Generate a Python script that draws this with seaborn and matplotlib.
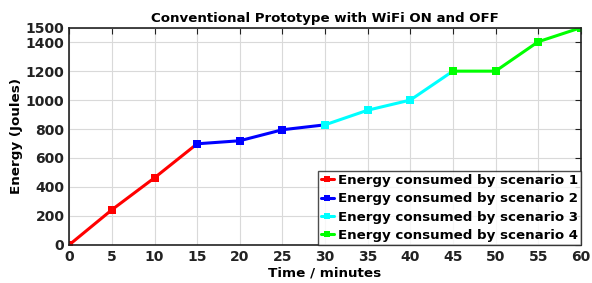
import pandas as pd
import matplotlib
matplotlib.use('Agg')
import matplotlib.pyplot as plt
import seaborn as sns

# ==================== DATA ====================
time_s1 = [0, 5, 10, 15]
energy_s1 = [0, 242, 463, 698]
time_s2 = [15, 20, 25, 30]
energy_s2 = [698, 719, 795, 829]
time_s3 = [30, 35, 40, 45]
energy_s3 = [829, 930, 1000, 1200]
time_s4 = [45, 50, 55, 60]
energy_s4 = [1200, 1200, 1403, 1500]

labels = ['Energy consumed by scenario 1', 'Energy consumed by scenario 2',
          'Energy consumed by scenario 3', 'Energy consumed by scenario 4']
colors = ['#ff0000', '#0000ff', '#00ffff', '#00ff00']
x_ticks = list(range(0, 61, 5))
y_ticks = [0, 200, 400, 600, 800, 1000, 1200, 1400, 1500]

frames = []
for t, e, lab in zip([time_s1, time_s2, time_s3, time_s4],
                     [energy_s1, energy_s2, energy_s3, energy_s4], labels):
    frames.append(pd.DataFrame({'Time': t, 'Energy': e, 'Scenario': lab}))
df = pd.concat(frames, ignore_index=True)

# ==================== PLOT ====================
sns.set_style('white')
plt.rcParams['font.family'] = ['DejaVu Sans']
plt.rcParams['font.weight'] = 'bold'

fig, ax = plt.subplots(figsize=(5.92, 2.83), dpi=100)
sns.lineplot(data=df, x='Time', y='Energy', hue='Scenario', palette=colors,
             marker='s', markersize=6, markeredgewidth=0, linewidth=2.2,
             sort=False, ax=ax)

ax.set_xlim(0, 60)
ax.set_ylim(0, 1500)
ax.set_xticks(x_ticks)
ax.set_yticks(y_ticks)
ax.grid(True, color='#d9d9d9', linewidth=0.8)
ax.tick_params(direction='in', length=4, labelsize=10, top=True, right=True,
               color='#222222')
for lbl in ax.get_xticklabels() + ax.get_yticklabels():
    lbl.set_fontweight('bold')
    lbl.set_color('#222222')
for sp in ax.spines.values():
    sp.set_color('#222222')
    sp.set_linewidth(1.2)

ax.set_title('Conventional Prototype with WiFi ON and OFF', fontsize=9.6,
             fontweight='bold', color='black', pad=4)
ax.set_xlabel('Time / minutes', fontsize=9.7, fontweight='bold', color='black', labelpad=2)
ax.set_ylabel('Energy (Joules)', fontsize=9.7, fontweight='bold', color='black', labelpad=2)

leg = ax.legend(loc='lower right', fontsize=9.6, frameon=True, fancybox=False,
                borderpad=0.2, labelspacing=0.4, handlelength=1.0,
                handletextpad=0.3, borderaxespad=0.0, markerscale=0.7)
leg.get_frame().set_edgecolor('#222222')
leg.get_frame().set_linewidth(1.0)
for t in leg.get_texts():
    t.set_fontweight('bold')
    t.set_color('black')

fig.subplots_adjust(left=0.117, right=0.981, top=0.902, bottom=0.135)
plt.savefig('out.png', dpi=100)
plt.close()
